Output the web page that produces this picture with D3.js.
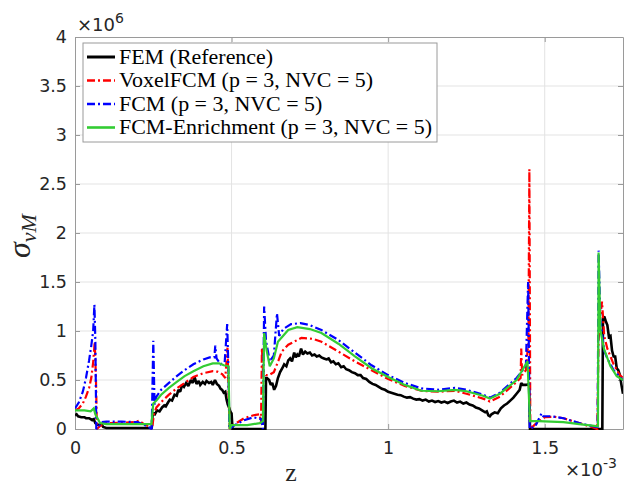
<!DOCTYPE html>
<html><head><meta charset="utf-8">
<script src="https://cdn.jsdelivr.net/npm/d3@7"></script>
<style>body{margin:0;background:#fff}svg{display:block}</style>
</head><body>
<svg id="c" width="625" height="488"></svg>
<script>
// z in units of 1e-3, sigma in units of 1e6
const xTicks = [0, 0.5, 1, 1.5];
const xTickLabels = ["0", "0.5", "1", "1.5"];
const yTicks = [0, 0.5, 1, 1.5, 2, 2.5, 3, 3.5, 4];
const yTickLabels = ["0", "0.5", "1", "1.5", "2", "2.5", "3", "3.5", "4"];
const seriesNames = ["FEM (Reference)", "VoxelFCM (p = 3, NVC = 5)", "FCM (p = 3, NVC = 5)", "FCM-Enrichment (p = 3, NVC = 5)"];

const fem = [[0,0.14],[0.005,0.15],[0.01,0.13],[0.02,0.12],[0.03,0.12],[0.035,0.11],[0.045,0.11],[0.05,0.10],[0.055,0.09],[0.06,0.10],[0.065,0.06],[0.07,0.05],[0.075,0.04],[0.085,0.05],[0.09,0.02],[0.10,0.01],[0.15,0.01],[0.20,0.01],[0.245,0.01],
[0.248,0.16],[0.255,0.15],[0.262,0.19],[0.27,0.18],[0.278,0.22],[0.285,0.24],[0.29,0.23],[0.297,0.27],[0.303,0.30],[0.31,0.29],[0.318,0.35],[0.325,0.34],[0.33,0.40],[0.336,0.38],[0.342,0.45],[0.348,0.43],[0.355,0.47],[0.362,0.44],[0.37,0.50],[0.376,0.47],[0.382,0.53],[0.388,0.46],[0.395,0.49],[0.40,0.45],[0.408,0.48],[0.415,0.46],[0.42,0.49],[0.428,0.47],[0.435,0.48],[0.44,0.45],[0.447,0.50],[0.453,0.46],[0.46,0.44],[0.465,0.41],[0.47,0.40],[0.475,0.37],[0.48,0.38],[0.484,0.30],[0.488,0.25],[0.492,0.22],[0.496,0.18],[0.50,0.16],[0.503,0.0],[0.55,0.0],[0.608,0.0],
[0.61,0.52],[0.613,0.52],[0.62,0.50],[0.625,0.45],[0.63,0.47],[0.636,0.40],[0.642,0.44],[0.648,0.52],[0.655,0.58],[0.662,0.62],[0.668,0.66],[0.675,0.64],[0.681,0.70],[0.687,0.72],[0.693,0.69],[0.70,0.78],[0.705,0.73],[0.71,0.76],[0.715,0.74],[0.722,0.82],[0.728,0.76],[0.735,0.79],[0.742,0.77],[0.75,0.78],[0.757,0.75],[0.765,0.76],[0.772,0.74],[0.78,0.75],[0.787,0.73],[0.795,0.72],[0.803,0.71],[0.81,0.72],[0.818,0.68],[0.825,0.69],[0.833,0.66],[0.841,0.67],[0.85,0.63],[0.858,0.64],[0.866,0.61],[0.875,0.60],[0.884,0.58],[0.894,0.57],[0.903,0.55],[0.912,0.55],[0.92,0.52],[0.93,0.51],[0.94,0.48],[0.95,0.46],[0.96,0.45],[0.97,0.43],[0.98,0.41],[0.99,0.40],[1.0,0.38],[1.01,0.37],[1.02,0.36],[1.03,0.35],[1.04,0.345],[1.05,0.33],[1.06,0.32],[1.07,0.325],[1.08,0.31],[1.09,0.30],[1.10,0.305],[1.11,0.29],[1.12,0.30],[1.13,0.28],[1.14,0.29],[1.15,0.275],[1.16,0.285],[1.17,0.27],[1.18,0.28],[1.19,0.265],[1.20,0.28],[1.21,0.29],[1.22,0.27],[1.23,0.28],[1.24,0.26],[1.25,0.27],[1.26,0.25],[1.27,0.24],[1.28,0.22],[1.29,0.21],[1.30,0.19],[1.31,0.17],[1.315,0.18],[1.32,0.14],[1.325,0.13],[1.33,0.15],[1.34,0.17],[1.35,0.16],[1.36,0.21],[1.37,0.24],[1.38,0.26],[1.39,0.29],[1.40,0.32],[1.41,0.36],[1.42,0.40],[1.425,0.47],[1.43,0.45],[1.44,0.45],[1.45,0.46],[1.453,0.0],[1.55,0.0],[1.684,0.0],
[1.686,1.12],[1.69,1.15],[1.695,1.10],[1.70,1.06],[1.705,0.94],[1.71,0.95],[1.715,0.80],[1.72,0.74],[1.725,0.74],[1.73,0.62],[1.735,0.60],[1.74,0.55],[1.745,0.45],[1.75,0.36]];

const voxelFCM = [[0,0.19],[0.012,0.21],[0.025,0.26],[0.035,0.33],[0.045,0.42],[0.052,0.52],[0.058,0.68],[0.063,0.89],[0.067,0.5],[0.07,0.0],[0.08,0.03],[0.10,0.06],[0.15,0.065],[0.19,0.07],[0.205,0.085],[0.22,0.05],[0.24,0.02],[0.246,0.0],[0.252,0.15],[0.26,0.22],[0.28,0.29],[0.30,0.35],[0.325,0.415],[0.35,0.47],[0.378,0.53],[0.41,0.57],[0.44,0.59],[0.455,0.585],[0.47,0.56],[0.48,0.52],[0.487,0.83],[0.491,0.3],[0.494,0.0],[0.51,0.05],[0.54,0.11],[0.57,0.14],[0.59,0.15],[0.594,0.05],[0.597,0.83],[0.60,0.6],[0.61,0.55],[0.62,0.55],[0.635,0.58],[0.65,0.7],[0.66,0.79],[0.681,0.86],[0.723,0.93],[0.76,0.92],[0.787,0.89],[0.841,0.79],[0.894,0.69],[0.947,0.60],[1.0,0.51],[1.053,0.44],[1.106,0.39],[1.16,0.38],[1.213,0.39],[1.25,0.36],[1.303,0.31],[1.325,0.28],[1.357,0.33],[1.41,0.48],[1.423,0.52],[1.425,0.82],[1.428,0.55],[1.44,0.6],[1.448,0.9],[1.451,2.65],[1.454,0.0],[1.47,0.05],[1.50,0.12],[1.53,0.125],[1.56,0.11],[1.61,0.06],[1.65,0.02],[1.668,0.0],[1.672,0.9],[1.676,1.1],[1.683,1.3],[1.69,0.95],[1.70,0.82],[1.72,0.66],[1.74,0.55],[1.75,0.52]];

const fcm = [[0,0.21],[0.012,0.27],[0.025,0.38],[0.035,0.52],[0.045,0.70],[0.052,0.85],[0.058,1.0],[0.062,1.27],[0.065,0.9],[0.068,0.0],[0.075,0.02],[0.085,0.07],[0.10,0.075],[0.15,0.075],[0.20,0.07],[0.23,0.03],[0.245,0.0],[0.250,0.9],[0.254,0.25],[0.26,0.33],[0.275,0.40],[0.30,0.47],[0.325,0.54],[0.35,0.60],[0.378,0.66],[0.41,0.71],[0.43,0.73],[0.445,0.73],[0.448,0.85],[0.452,0.72],[0.465,0.66],[0.478,0.68],[0.486,1.07],[0.49,0.6],[0.493,0.0],[0.51,0.04],[0.54,0.09],[0.57,0.12],[0.595,0.10],[0.60,0.0],[0.604,1.25],[0.61,0.9],[0.622,0.69],[0.635,0.75],[0.645,1.18],[0.652,0.95],[0.665,1.02],[0.69,1.07],[0.72,1.08],[0.75,1.06],[0.787,1.01],[0.84,0.91],[0.894,0.78],[0.947,0.65],[1.0,0.55],[1.053,0.47],[1.106,0.415],[1.16,0.40],[1.213,0.42],[1.25,0.40],[1.303,0.35],[1.325,0.32],[1.357,0.37],[1.41,0.52],[1.43,0.60],[1.44,0.65],[1.447,1.5],[1.452,0.0],[1.47,0.03],[1.49,0.16],[1.495,0.13],[1.52,0.13],[1.56,0.11],[1.61,0.06],[1.665,0.02],[1.669,0.0],[1.672,1.82],[1.678,1.1],[1.69,0.8],[1.70,0.72],[1.72,0.6],[1.74,0.53],[1.75,0.5]];

const fcmEnrich = [[0,0.19],[0.03,0.19],[0.05,0.18],[0.06,0.21],[0.065,0.15],[0.08,0.06],[0.10,0.05],[0.15,0.05],[0.20,0.05],[0.244,0.05],[0.25,0.26],[0.26,0.29],[0.275,0.35],[0.30,0.42],[0.325,0.48],[0.35,0.54],[0.378,0.59],[0.41,0.64],[0.44,0.67],[0.46,0.67],[0.475,0.65],[0.49,0.64],[0.494,0.0],[0.50,0.04],[0.55,0.04],[0.59,0.06],[0.60,0.08],[0.604,0.98],[0.612,0.8],[0.622,0.64],[0.635,0.72],[0.648,0.89],[0.681,1.01],[0.71,1.04],[0.75,1.02],[0.787,0.98],[0.841,0.87],[0.894,0.74],[0.947,0.62],[1.0,0.53],[1.053,0.45],[1.106,0.39],[1.16,0.385],[1.213,0.40],[1.25,0.385],[1.303,0.34],[1.325,0.31],[1.357,0.36],[1.41,0.50],[1.445,0.69],[1.45,0.3],[1.453,0.08],[1.48,0.08],[1.52,0.075],[1.56,0.07],[1.61,0.05],[1.665,0.03],[1.670,0.03],[1.672,1.8],[1.678,1.0],[1.69,0.81],[1.71,0.64],[1.73,0.54],[1.75,0.5]];

const svg = d3.select("#c");
const m = {l:75, t:37, r:2, b:59};
const W = 625, H = 488;
const pw = W - m.l - m.r, ph = H - m.t - m.b;
const x = d3.scaleLinear().domain([0, 1.75]).range([0, pw]);
const y = d3.scaleLinear().domain([0, 4]).range([ph, 0]);
const g = svg.append("g").attr("transform", `translate(${m.l},${m.t})`);

// grid
g.append("g").selectAll("line").data(xTicks.slice(1)).join("line")
  .attr("x1", d=>x(d)).attr("x2", d=>x(d)).attr("y1", 0).attr("y2", ph)
  .attr("stroke", "#e3e3e3").attr("stroke-width", 1);
g.append("g").selectAll("line").data(yTicks.slice(1, -1)).join("line")
  .attr("y1", d=>y(d)).attr("y2", d=>y(d)).attr("x1", 0).attr("x2", pw)
  .attr("stroke", "#e3e3e3").attr("stroke-width", 1);

// axes (ticks inward)
const tickFont = "DejaVu Sans, sans-serif";
const ax = g.append("g").attr("transform", `translate(0,${ph})`)
  .call(d3.axisBottom(x).tickValues(xTicks).tickFormat((d,i)=>xTickLabels[i]).tickSizeInner(-5).tickSizeOuter(0).tickPadding(13));
const ay = g.append("g")
  .call(d3.axisLeft(y).tickValues(yTicks).tickFormat((d,i)=>yTickLabels[i]).tickSizeInner(-5).tickSizeOuter(0).tickPadding(8));
const axT = g.append("g")
  .call(d3.axisTop(x).tickValues(xTicks).tickFormat("").tickSizeInner(-5).tickSizeOuter(0));
const ayR = g.append("g").attr("transform", `translate(${pw},0)`)
  .call(d3.axisRight(y).tickValues(yTicks).tickFormat("").tickSizeInner(-5).tickSizeOuter(0));
[ax, ay, axT, ayR].forEach(a => {
  a.select(".domain").attr("stroke", "#9a9a9a").attr("stroke-width", 1);
  a.selectAll(".tick line").attr("stroke", "#9a9a9a");
  a.selectAll("text").attr("font-family", tickFont).attr("font-size", 17.5).attr("fill", "#262626");
});

// lines
const clip = svg.append("clipPath").attr("id", "pc").append("rect").attr("width", pw).attr("height", ph + 2).attr("y", -1);
const line = d3.line().x(d=>x(d[0])).y(d=>y(d[1]));
const styles = [
  {data: fem, color: "#000000", w: 2.6, dash: null},
  {data: voxelFCM, color: "#ff0000", w: 2.2, dash: "8,3,2,3"},
  {data: fcm, color: "#0000ff", w: 2.2, dash: "8,3,2,3"},
  {data: fcmEnrich, color: "#33cc33", w: 2.2, dash: null}
];
const lg = g.append("g").attr("clip-path", "url(#pc)");
styles.forEach(s => {
  lg.append("path").datum(s.data).attr("d", line).attr("fill", "none")
    .attr("stroke", s.color).attr("stroke-width", s.w)
    .attr("stroke-dasharray", s.dash).attr("stroke-linejoin", "miter").attr("stroke-miterlimit", 2);
});

// legend
const leg = svg.append("g").attr("transform", "translate(83,43)");
leg.append("rect").attr("width", 354).attr("height", 99).attr("fill", "#fff").attr("stroke", "#9a9a9a").attr("stroke-width", 1);
const texts = [];
styles.forEach((s, i) => {
  const yy = 14 + i * 23.5;
  leg.append("line").attr("x1", 4).attr("x2", 32).attr("y1", yy).attr("y2", yy)
    .attr("stroke", s.color).attr("stroke-width", s.w + 0.4).attr("stroke-dasharray", s.dash);
  texts.push(leg.append("text").attr("x", 36).attr("y", yy + 6.5).text(seriesNames[i])
    .attr("font-family", "Liberation Serif, serif").attr("font-size", 21).attr("fill", "#000"));
});
// stretch the serif text to the width of the original (Computer Modern is wider)
const base = texts[3].node().getComputedTextLength();
const k = 313 / base;
texts.forEach(t => {
  const L = t.node().getComputedTextLength();
  t.attr("textLength", L * k).attr("lengthAdjust", "spacingAndGlyphs");
});

// exponent labels
const ex6 = svg.append("text").attr("x", 77).attr("y", 31).attr("font-family", tickFont).attr("font-size", 18).attr("fill", "#262626");
ex6.append("tspan").text("×10");
ex6.append("tspan").attr("dy", -8).attr("font-size", 14).text("6");
const ex3 = svg.append("text").attr("x", 565).attr("y", 476).attr("font-family", tickFont).attr("font-size", 18).attr("fill", "#262626");
ex3.append("tspan").text("×10");
ex3.append("tspan").attr("dy", -8).attr("font-size", 14).text("-3");

// axis labels
svg.append("text").attr("x", m.l + pw/2 - 58).attr("y", 481).attr("text-anchor", "middle")
  .attr("font-family", "Liberation Serif, serif").attr("font-size", 26).attr("fill", "#262626").text("z");
const yl = svg.append("text").attr("transform", "translate(30,236) rotate(-90)").attr("text-anchor", "middle")
  .attr("font-family", "Liberation Serif, serif").attr("font-style", "italic").attr("fill", "#262626");
yl.append("tspan").attr("font-size", 32).text("σ");
yl.append("tspan").attr("font-size", 22).attr("dy", 6).text("vM");
</script>
</body></html>
